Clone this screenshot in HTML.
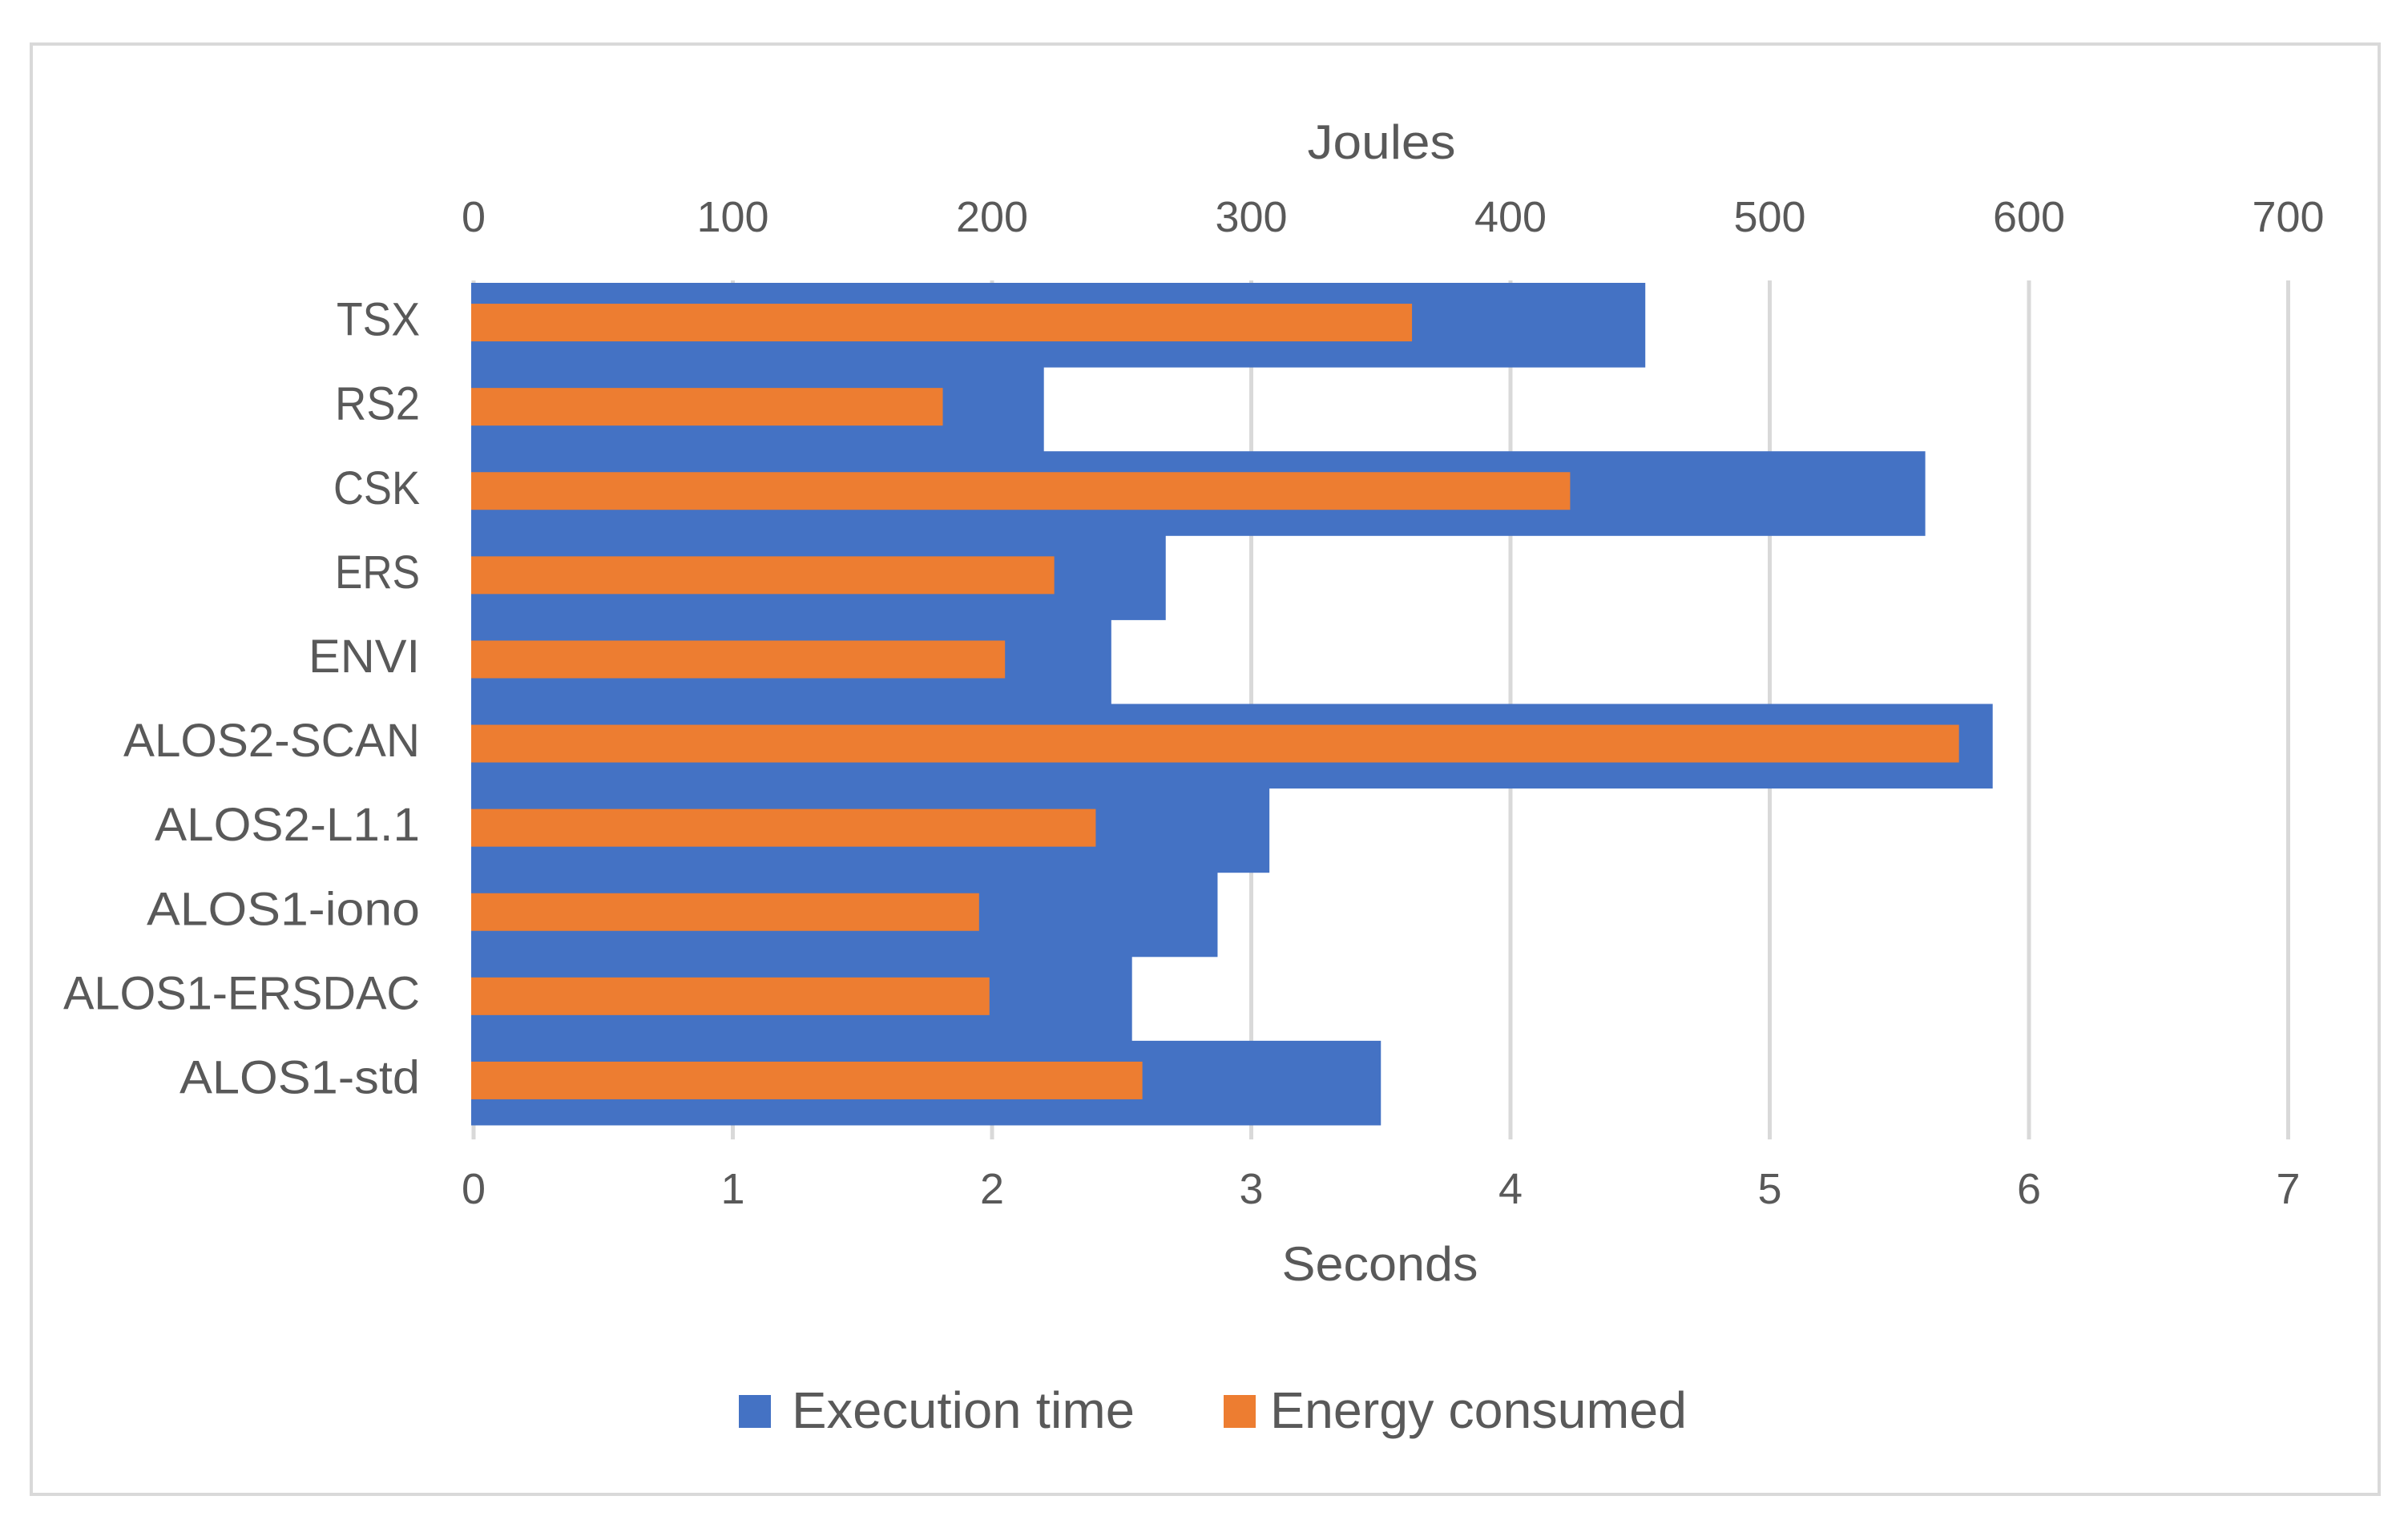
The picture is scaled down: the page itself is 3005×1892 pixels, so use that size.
<!DOCTYPE html>
<html><head><meta charset="utf-8"><title>Execution time and energy</title>
<style>html,body{margin:0;padding:0;background:#fff}svg{display:block}text{font-family:"Liberation Sans",sans-serif;fill:#595959}</style>
</head><body>
<svg id="chart" width="3005" height="1892" viewBox="0 0 3005 1892" xmlns="http://www.w3.org/2000/svg">
<rect x="39" y="55" width="2930" height="1810" fill="#fff" stroke="#d9d9d9" stroke-width="4"/>
<g id="grid"></g><g id="bars"></g><g id="labels"></g>
<text x="1724" y="198" font-size="60" text-anchor="middle" textLength="185" lengthAdjust="spacingAndGlyphs">Joules</text>
<text x="1722" y="1598" font-size="60" text-anchor="middle" textLength="245" lengthAdjust="spacingAndGlyphs">Seconds</text>
<rect x="922" y="1741" width="40" height="41" fill="#4472c4"/>
<text x="988" y="1782" font-size="64" textLength="428" lengthAdjust="spacingAndGlyphs">Execution time</text>
<rect x="1527" y="1741" width="40" height="41" fill="#ed7d31"/>
<text x="1585" y="1782" font-size="64" textLength="520" lengthAdjust="spacingAndGlyphs">Energy consumed</text>
</svg>
<script>
const categories = ["TSX","RS2","CSK","ERS","ENVI","ALOS2-SCAN","ALOS2-L1.1","ALOS1-iono","ALOS1-ERSDAC","ALOS1-std"];
const executionSeconds = [4.52,2.20,5.60,2.67,2.46,5.86,3.07,2.87,2.54,3.50];
const energyJoules = [362,181,423,224,205,573,240,195,199,258];
const secondTicks = ["0","1","2","3","4","5","6","7"];
const jouleTicks = ["0","100","200","300","400","500","600","700"];
const labelWidths = [104,106,108,106,139,370,331,341,445,300];

const NS="http://www.w3.org/2000/svg";
const X0=591, PX_PER_SEC=323.5, SEC_MAX=7, J_MAX=700;
const PLOT_TOP=353, PLOT_BOT=1404;
const xSec = v => X0 + v*PX_PER_SEC;
const xJ = v => X0 + v/J_MAX*SEC_MAX*PX_PER_SEC;
const band = (PLOT_BOT-PLOT_TOP)/categories.length;
const yBand = i => PLOT_TOP + i*band;

function mk(tag, attrs, parent){const e=document.createElementNS(NS,tag);for(const k in attrs)e.setAttribute(k,attrs[k]);parent.appendChild(e);return e;}
const grid=document.getElementById('grid'), bars=document.getElementById('bars'), labels=document.getElementById('labels');

secondTicks.forEach((t,i)=>{
  const x=xSec(+t);
  const g=mk('line',{x1:x,x2:x,y1:350,y2:1422,stroke:'#d9d9d9','stroke-width':5},grid);
  
  
  const b=mk('text',{x:x,y:1502,'font-size':54,'text-anchor':'middle'},labels);
  b.textContent=t;
  
  
});
jouleTicks.forEach((t,i)=>{
  const x=xJ(+t);
  const a=mk('text',{x:x,y:289,'font-size':54,'text-anchor':'middle'},labels);
  a.textContent=t;
  
  
});
categories.forEach((c,i)=>{
  const y=yBand(i);
  const b=mk('rect',{x:X0-3,y:y,width:xSec(executionSeconds[i])-X0+3,height:band+0.5,fill:'#4472c4'},bars);
  
  
  const o=mk('rect',{x:X0-3,y:y+band/2-26.5,width:xJ(energyJoules[i])-X0+3,height:47,fill:'#ed7d31'},bars);
  
  
  const l=mk('text',{x:524,y:y+band/2+13,'font-size':58,'text-anchor':'end',textLength:labelWidths[i],lengthAdjust:'spacingAndGlyphs'},labels);
  l.textContent=c;
  
  
});
</script>
</body></html>
